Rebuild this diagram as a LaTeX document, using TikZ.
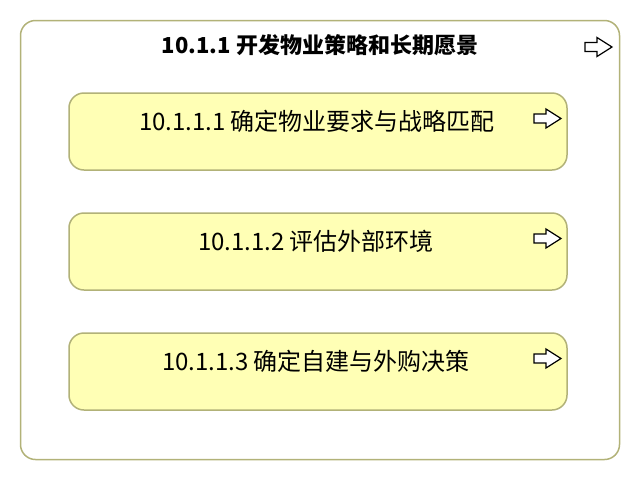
\documentclass[tikz,border=0pt]{standalone}
\usepackage{fontspec}
\setmainfont{Noto Sans CJK SC}
\usetikzlibrary{positioning}
\definecolor{boxline}{RGB}{178,178,120}
\definecolor{taskfill}{RGB}{255,255,181}
\tikzset{
  groupbox/.style={draw=boxline, line width=1.5pt, rounded corners=15pt, fill=white,
    minimum width=599pt, minimum height=439pt, inner sep=0pt},
  taskbox/.style={draw=boxline, line width=1.5pt, rounded corners=15pt, fill=taskfill,
    minimum width=498pt, minimum height=77pt, inner sep=0pt},
  tasklabel/.style={font=\fontsize{24pt}{28pt}\selectfont, inner sep=0pt},
  grouplabel/.style={font=\bfseries\fontsize{22pt}{26pt}\selectfont, inner sep=0pt},
  pics/goarrow/.style={code={
    \draw[line width=1.2pt, fill=white, line join=miter]
      (0,0) -- (-15,-9.5) -- (-15,-4.5) -- (-27,-4.5) -- (-27,4.5)
      -- (-15,4.5) -- (-15,9.5) -- cycle;
  }}
}
\begin{document}
\begin{tikzpicture}[x=1pt,y=-1pt]
  \useasboundingbox (0,0) rectangle (640,480);
  \node[groupbox] (group) at (320,240) {};
  \node[grouplabel] (grouptitle) at (320,45) {10.1.1 开发物业策略和长期愿景};
  \pic at (612,47) {goarrow};
  % tasks
  \node[taskbox] (task1) at (318,131.5) {};
  \node[taskbox] (task2) at (318,251.5) {};
  \node[taskbox] (task3) at (318,371.5) {};
  \node[tasklabel] (label1) at (317,121) {10.1.1.1 确定物业要求与战略匹配};
  \node[tasklabel] (label2) at (316,241) {10.1.1.2 评估外部环境};
  \node[tasklabel] (label3) at (316,361) {10.1.1.3 确定自建与外购决策};
  \pic at (561,118.5) {goarrow};
  \pic at (561,238.5) {goarrow};
  \pic at (561,358.5) {goarrow};
\end{tikzpicture}
\end{document}
